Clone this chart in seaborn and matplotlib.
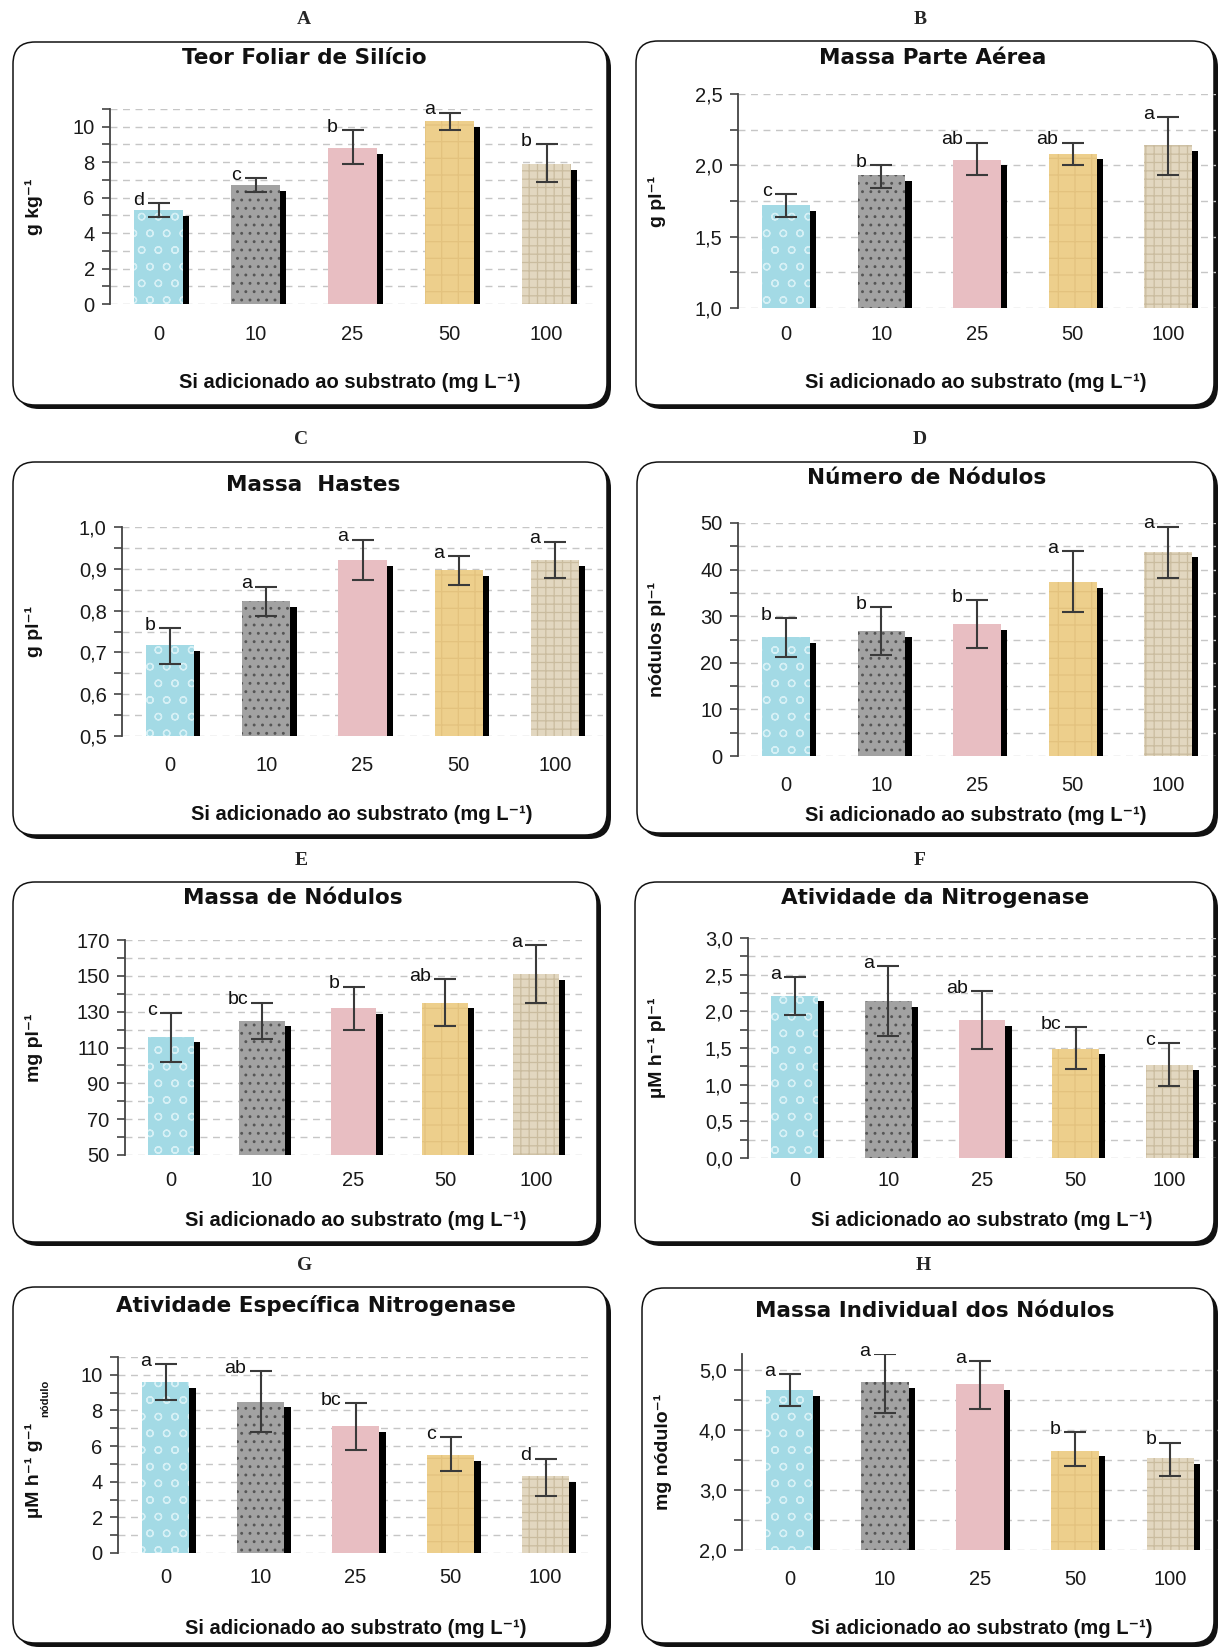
import numpy as np
import pandas as pd
import matplotlib
matplotlib.use("Agg")
import matplotlib.pyplot as plt
import matplotlib.patheffects as pe
import matplotlib.ticker as mticker
import matplotlib.transforms as mtransforms
from matplotlib.patches import FancyBboxPatch
import seaborn as sns

# ---------------- data ----------------
doses = ["0", "10", "25", "50", "100"]

a_mean = [5.3, 6.7, 8.8, 10.3, 7.9]
a_low = [4.9, 6.3, 7.9, 9.8, 6.9]
a_high = [5.7, 7.1, 9.8, 10.8, 9.0]
a_letters = ["d", "c", "b", "a", "b"]

b_mean = [1.72, 1.93, 2.04, 2.08, 2.14]
b_low = [1.64, 1.84, 1.93, 2.00, 1.93]
b_high = [1.80, 2.00, 2.16, 2.16, 2.34]
b_letters = ["c", "b", "ab", "ab", "a"]

c_mean = [0.717, 0.823, 0.921, 0.897, 0.921]
c_low = [0.673, 0.788, 0.874, 0.861, 0.878]
c_high = [0.758, 0.857, 0.970, 0.930, 0.965]
c_letters = ["b", "a", "a", "a", "a"]

d_mean = [25.5, 26.8, 28.3, 37.3, 43.8]
d_low = [21.2, 21.6, 23.1, 30.8, 38.2]
d_high = [29.6, 31.9, 33.5, 44.0, 49.2]
d_letters = ["b", "b", "b", "a", "a"]

e_mean = [116, 125, 132, 135, 151]
e_low = [102, 115, 120, 122, 135]
e_high = [129, 135, 144, 148, 167]
e_letters = ["c", "bc", "b", "ab", "a"]

f_mean = [2.21, 2.14, 1.88, 1.49, 1.27]
f_low = [1.95, 1.66, 1.49, 1.22, 0.98]
f_high = [2.47, 2.62, 2.28, 1.78, 1.57]
f_letters = ["a", "a", "ab", "bc", "c"]

g_mean = [9.6, 8.5, 7.1, 5.5, 4.3]
g_low = [8.6, 6.8, 5.8, 4.6, 3.2]
g_high = [10.6, 10.2, 8.4, 6.5, 5.3]
g_letters = ["a", "ab", "bc", "c", "d"]

h_mean = [4.67, 4.80, 4.77, 3.66, 3.53]
h_low = [4.41, 4.29, 4.35, 3.40, 3.23]
h_high = [4.94, 5.27, 5.15, 3.97, 3.79]
h_letters = ["a", "a", "a", "b", "b"]

titles = ["Teor Foliar de Silício", "Massa Parte Aérea", "Massa  Hastes",
          "Número de Nódulos", "Massa de Nódulos", "Atividade da Nitrogenase",
          "Atividade Específica Nitrogenase", "Massa Individual dos Nódulos"]
ylabels = ["g kg⁻¹", "g pl⁻¹", "g pl⁻¹", "nódulos pl⁻¹", "mg pl⁻¹",
           "µM h⁻¹ pl⁻¹", "µM h⁻¹ g⁻¹", "mg nódulo⁻¹"]
panel_letters = ["A", "B", "C", "D", "E", "F", "G", "H"]
xlabel_text = "Si adicionado ao substrato (mg L⁻¹)"

# ---------------- style ----------------
sns.set_style("ticks")
plt.rcParams["font.family"] = ["Liberation Sans", "DejaVu Sans"]
plt.rcParams["hatch.linewidth"] = 0.9

bar_colors = ["#A3DAE5", "#A2A2A2", "#E8BEC2", "#EDCF8C", "#E2D7C0"]
hatch_colors = ["#D6F0F5", "#555555", "#E3B3B8", "#E3C27E", "#CABC9F"]
hatches = ["o", "..", "", "+", "++"]

W, H = 1218, 1647
fig = plt.figure(figsize=(W / 100, H / 100), dpi=100)
fig.patch.set_facecolor("white")
ident = mtransforms.IdentityTransform()

panels = [
    dict(mean=a_mean, low=a_low, high=a_high, let=a_letters, ylim=(0, 11), major=2, minor=1, dec=0,
         ax=(110, 109, 595, 304), box=(13, 42, 607, 405), letter=(304, 20), title=(304, 58),
         ylab_x=34, ylab_y=0.5, xlab=(350, 383), xpad=15),
    dict(mean=b_mean, low=b_low, high=b_high, let=b_letters, ylim=(1.0, 2.5), major=0.5, minor=0.25, dec=1,
         ax=(738, 94, 1216, 308), box=(636, 41, 1214, 405), letter=(920, 20), title=(933, 58),
         ylab_x=657, ylab_y=0.5, xlab=(976, 383), xpad=12),
    dict(mean=c_mean, low=c_low, high=c_high, let=c_letters, ylim=(0.5, 1.0), major=0.1, minor=0.05, dec=1,
         ax=(122, 527, 603, 736), box=(13, 462, 607, 835), letter=(301, 439), title=(313, 485),
         ylab_x=34, ylab_y=0.5, xlab=(362, 815), xpad=14.5),
    dict(mean=d_mean, low=d_low, high=d_high, let=d_letters, ylim=(0, 50), major=10, minor=5, dec=0,
         ax=(738, 523, 1216, 756), box=(637, 462, 1214, 833), letter=(920, 439), title=(927, 478),
         ylab_x=657, ylab_y=0.5, xlab=(976, 815), xpad=14.5),
    dict(mean=e_mean, low=e_low, high=e_high, let=e_letters, ylim=(50, 170), major=20, minor=10, dec=0,
         ax=(125, 940, 582, 1155), box=(13, 882, 597, 1242), letter=(301, 860), title=(293, 898),
         ylab_x=34, ylab_y=0.5, xlab=(356, 1220), xpad=11.5),
    dict(mean=f_mean, low=f_low, high=f_high, let=f_letters, ylim=(0, 3.0), major=0.5, minor=0.25, dec=1,
         ax=(748, 938, 1216, 1158), box=(635, 882, 1214, 1242), letter=(920, 860), title=(935, 898),
         ylab_x=657, ylab_y=0.5, xlab=(982, 1221), xpad=9),
    dict(mean=g_mean, low=g_low, high=g_high, let=g_letters, ylim=(0, 11), major=2, minor=1, dec=0,
         ax=(118, 1357, 593, 1553), box=(13, 1287, 607, 1643), letter=(305, 1266), title=(316, 1305),
         ylab_x=34, ylab_y=0.42, xlab=(356, 1629), xpad=11),
    dict(mean=h_mean, low=h_low, high=h_high, let=h_letters, ylim=(2.0, 5.27), major=1.0, minor=0.5, dec=1,
         ax=(742, 1354, 1218, 1550), box=(642, 1288, 1214, 1643), letter=(923, 1266), title=(935, 1311),
         ylab_x=663, ylab_y=0.5, xlab=(982, 1628), xpad=14.5),
]


def add_box(l, t, r, b):
    rs = 22
    shadow = FancyBboxPatch((l + 4, H - b - 4), r - l, b - t,
                            boxstyle=f"round,pad=0,rounding_size={rs}",
                            transform=ident, facecolor="#111111", edgecolor="none", zorder=-3)
    box = FancyBboxPatch((l, H - b), r - l, b - t,
                         boxstyle=f"round,pad=0,rounding_size={rs}",
                         transform=ident, facecolor="white", edgecolor="#111111",
                         linewidth=1.1, zorder=-2)
    fig.add_artist(shadow)
    fig.add_artist(box)


def fmt(dec):
    return mticker.FuncFormatter(lambda v, pos: f"{v:.{dec}f}".replace(".", ","))


for i, P in enumerate(panels):
    add_box(*P["box"])
    l, t, r, b = P["ax"]
    ax = fig.add_axes([l / W, 1 - b / H, (r - l) / W, (b - t) / H])
    ax.set_facecolor("none")

    df = pd.DataFrame({"dose": doses, "valor": P["mean"]})
    sns.barplot(data=df, x="dose", y="valor", hue="dose", order=doses, hue_order=doses,
                palette=bar_colors, legend=False, width=0.5, errorbar=None,
                saturation=1, ax=ax, zorder=3)

    bars = sorted([p for p in ax.patches], key=lambda p: p.get_x())
    for p, hc, hs in zip(bars, hatch_colors, hatches):
        p.set_edgecolor(hc)
        p.set_linewidth(0)
        if hs:
            p.set_hatch(hs)
        p.set_path_effects([
            pe.SimplePatchShadow(offset=(4.5, -4), shadow_rgbFace="black", alpha=1.0, hatch=None),
            pe.Normal()])

    xc = np.array([p.get_x() + p.get_width() / 2 for p in bars])
    mean = np.array(P["mean"], dtype=float)
    low = np.array(P["low"], dtype=float)
    high = np.array(P["high"], dtype=float)
    ax.errorbar(xc, mean, yerr=[mean - low, high - mean], fmt="none", ecolor="#3a3a3a",
                elinewidth=1.5, capsize=8, capthick=1.5, zorder=6)
    for x, hi, lt in zip(xc, high, P["let"]):
        ax.annotate(lt, xy=(x - 0.15, hi), xytext=(0, 2), textcoords="offset points",
                    ha="right", va="center", fontsize=14, color="#111111",
                    annotation_clip=False, zorder=7)

    y0, y1 = P["ylim"]
    ax.set_xlim(-0.5, 4.5)
    ax.set_ylim(y0, y1)
    ax.yaxis.set_major_locator(mticker.MultipleLocator(P["major"], offset=y0 % P["major"]))
    ax.yaxis.set_minor_locator(mticker.MultipleLocator(P["minor"], offset=y0 % P["minor"]))
    ax.yaxis.set_major_formatter(fmt(P["dec"]))
    ax.set_axisbelow(True)
    ax.yaxis.grid(True, which="both", linestyle=(0, (5, 4)), color="#C6C6C6", linewidth=1.0, zorder=0)
    ax.xaxis.grid(False)
    sns.despine(ax=ax, bottom=True)
    ax.spines["left"].set_color("#444444")
    ax.spines["left"].set_linewidth(1.3)
    ax.tick_params(axis="y", which="both", direction="out", length=6, width=1.2,
                   color="#444444", labelsize=14.5, labelcolor="#1a1a1a", pad=5)
    ax.tick_params(axis="x", length=0, labelsize=14.5, labelcolor="#1a1a1a", pad=P["xpad"])

    ax.set_xlabel(xlabel_text, fontsize=14.5, fontweight="bold", color="#111111")
    xl, yl = P["xlab"]
    ax.xaxis.set_label_coords((xl - l) / (r - l), (b - yl) / (b - t))
    ax.xaxis.label.set_va("center")

    ax.set_ylabel(ylabels[i], fontsize=14, fontweight="bold", color="#111111")
    ax.yaxis.set_label_coords((P["ylab_x"] - l) / (r - l), P["ylab_y"])
    ax.yaxis.label.set_va("center")

    tx, ty = P["title"]
    fig.text(tx / W, 1 - ty / H, titles[i], ha="center", va="center",
             fontsize=15.5, fontweight="bold", family=["DejaVu Sans"], color="#111111")
    lx, ly = P["letter"]
    fig.text(lx / W, 1 - ly / H, panel_letters[i], ha="center", va="center",
             fontsize=14, fontweight="bold", family=["Liberation Serif", "DejaVu Serif"])

# subscript "nódulo" of panel G's y label
fig.text(45 / W, 1 - 1398 / H, "nódulo", rotation=90, ha="center", va="center",
         fontsize=8, fontweight="bold", color="#111111")

fig.savefig("out.png", dpi=100, facecolor="white")
